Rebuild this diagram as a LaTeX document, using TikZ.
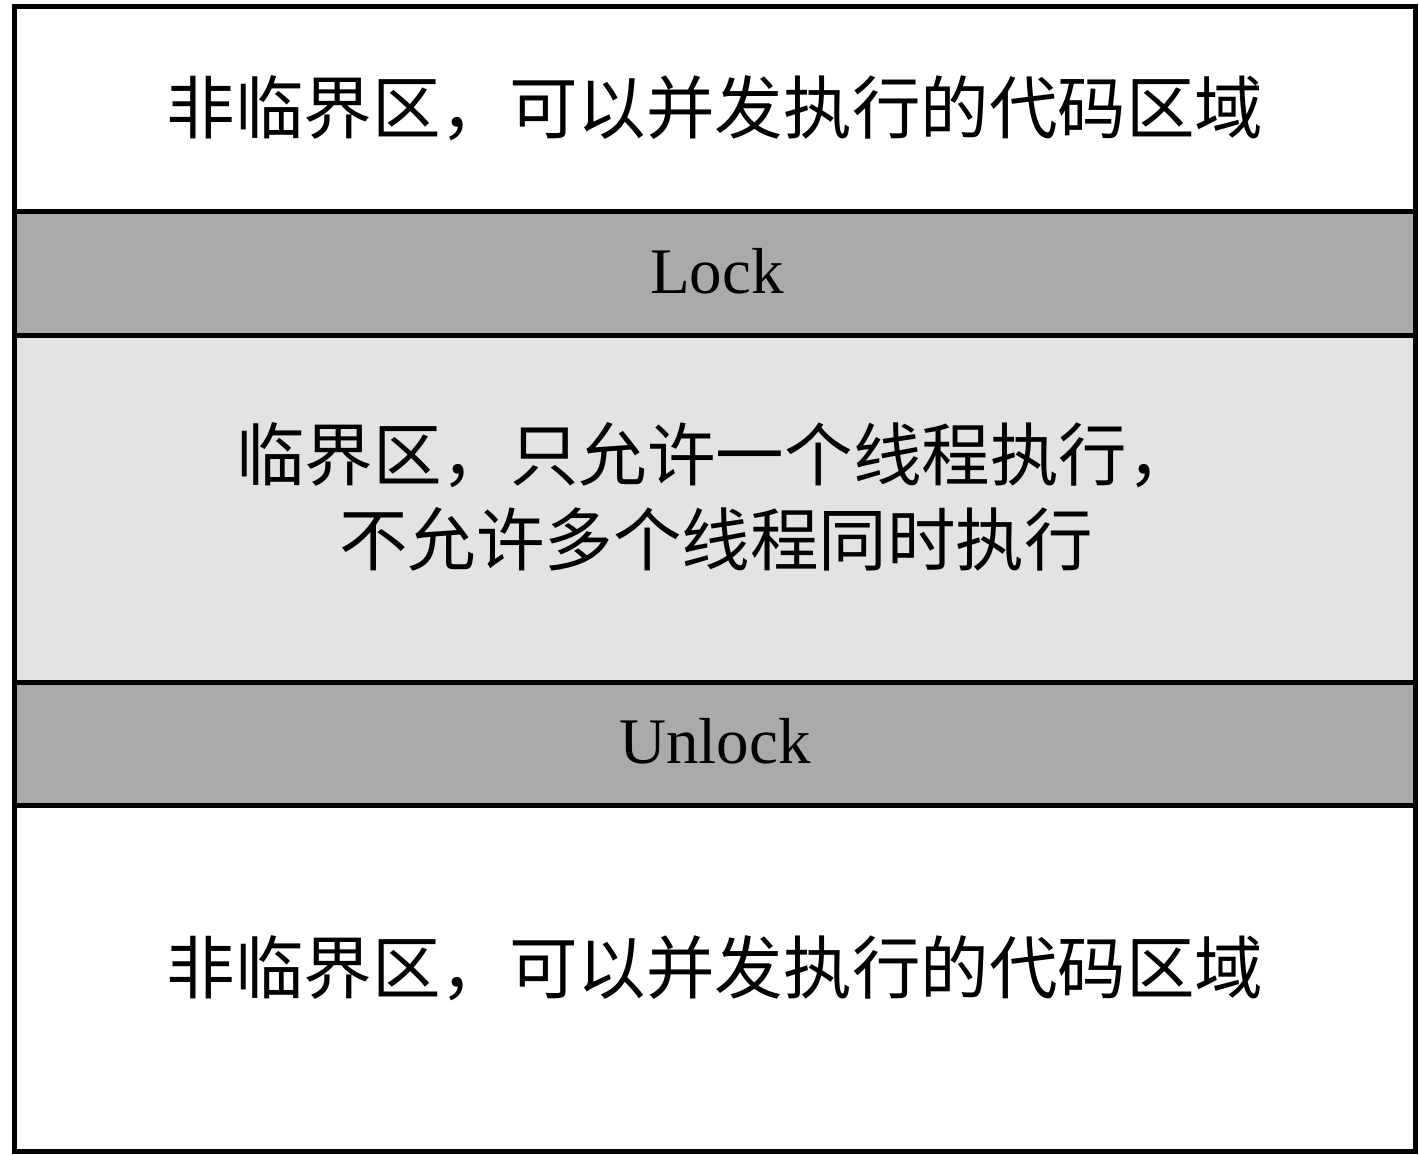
\documentclass[tikz,border=0pt]{standalone}
\usepackage{fontspec}
\setmainfont{Liberation Serif}
\newfontfamily\cjk{Noto Sans CJK SC}
\usetikzlibrary{positioning}
\definecolor{lockgray}{RGB}{169,170,171}
\definecolor{critgray}{RGB}{227,227,227}

\begin{document}
\begin{tikzpicture}
    \useasboundingbox (0,0) rectangle (14.19,-11.55);

    % Define styles
    \tikzset{
        band/.style={rectangle, draw, line width=1.4pt, minimum width=14.01cm, inner sep=0pt, anchor=north},
        cjktext/.style={font=\cjk\fontsize{19.5pt}{24.2pt}\selectfont, align=center},
        lattext/.style={font=\fontsize{18.5pt}{22pt}\selectfont}
    }

    % Define bands
	\node[band, fill=white, minimum height=2.05cm] (TopFree) at (7.15, -0.045) {};
	\node[band, fill=lockgray, minimum height=1.24cm] (LockBand) at (7.15, -2.095) {};
	\node[band, fill=critgray, minimum height=3.465cm] (Critical) at (7.15, -3.335) {};
	\node[band, fill=lockgray, minimum height=1.235cm] (UnlockBand) at (7.15, -6.80) {};
	\node[band, fill=white, minimum height=3.46cm] (BottomFree) at (7.15, -8.035) {};

    % Define texts
	\node[cjktext] (TopText) at (7.15, -1.08) {非临界区，可以并发执行的代码区域};
	\node[lattext] (LockText) at (7.17, -2.71) {Lock};
	\node[cjktext] (CritText) at (7.16, -4.97) {临界区，只允许一个线程执行，\\不允许多个线程同时执行};
	\node[lattext] (UnlockText) at (7.15, -7.41) {Unlock};
	\node[cjktext] (BottomText) at (7.15, -9.68) {非临界区，可以并发执行的代码区域};
\end{tikzpicture}
\end{document}
